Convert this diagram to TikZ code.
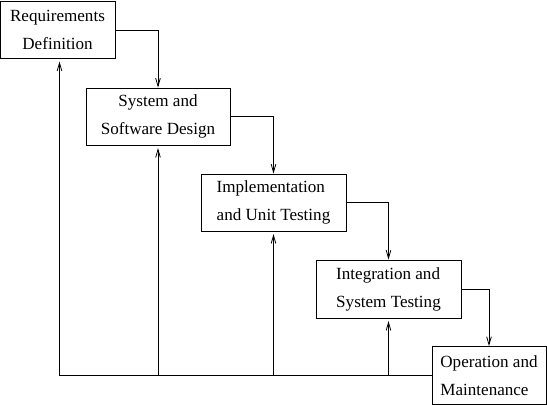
\documentclass[tikz,border=0pt]{standalone}
\usepackage{fontspec}
\setmainfont{Liberation Serif}
\usetikzlibrary{arrows.meta}
\newcommand{\phasefont}{\fontsize{12.8}{21}\selectfont}
\newcommand{\phaseh}{42.75pt}
\newcommand{\tallh}{43.5pt}
\newcommand{\widew}{108.75pt}
\newcommand{\narroww}{86.25pt}
\tikzset{
  phase/.style={draw, rectangle, line width=0.6pt, inner sep=0pt,
    minimum height=\phaseh, font=\phasefont},
  flow/.style={line width=0.6pt, -{Straight Barb[length=6pt,width=3.5pt]}},
  back/.style={flow, shorten >=2pt}
}

\begin{document}
\begin{tikzpicture}[x=0.75pt, y=-0.75pt]
    \useasboundingbox (0,0) rectangle (547,404);

    % phases
    \node[phase, minimum width=\narroww, align=center] (req) at (57.5,30) {Requirements\\Definition};
    \node[phase, minimum width=108pt, align=center] (design) at (158,116.5) {System and\\Software Design};
    \node[phase, minimum width=\widew, align=left] (impl) at (273.5,202.5) {Implementation\\and Unit Testing};
    \node[phase, minimum width=\widew, align=left, minimum height=\tallh] (integ) at (388.5,289) {Integration and\\System Testing};
    \node[phase, minimum width=85.5pt, align=left, minimum height=\tallh] (oper) at (489,375.5) {Operation and\\Maintenance};

    % forward flow
    \draw[flow] (req.east) -| (design.north);
    \draw[flow] (design.east) -| (impl.north);
    \draw[flow] (impl.east) -| (integ.north);
    \draw[flow] (integ.east) -| (oper.north);

    % feedback
    \coordinate (fbreq) at ([xshift=1.5]req.south |- oper.west);
    \draw[line width=0.6pt] (oper.west) -- (fbreq);
    \draw[back] (fbreq) -- (fbreq |- req.south);
    \draw[back] (design.south |- oper.west) -- (design.south);
    \draw[back] (impl.south |- oper.west) -- (impl.south);
    \draw[back] (integ.south |- oper.west) -- (integ.south);
  \end{tikzpicture}
\end{document}
